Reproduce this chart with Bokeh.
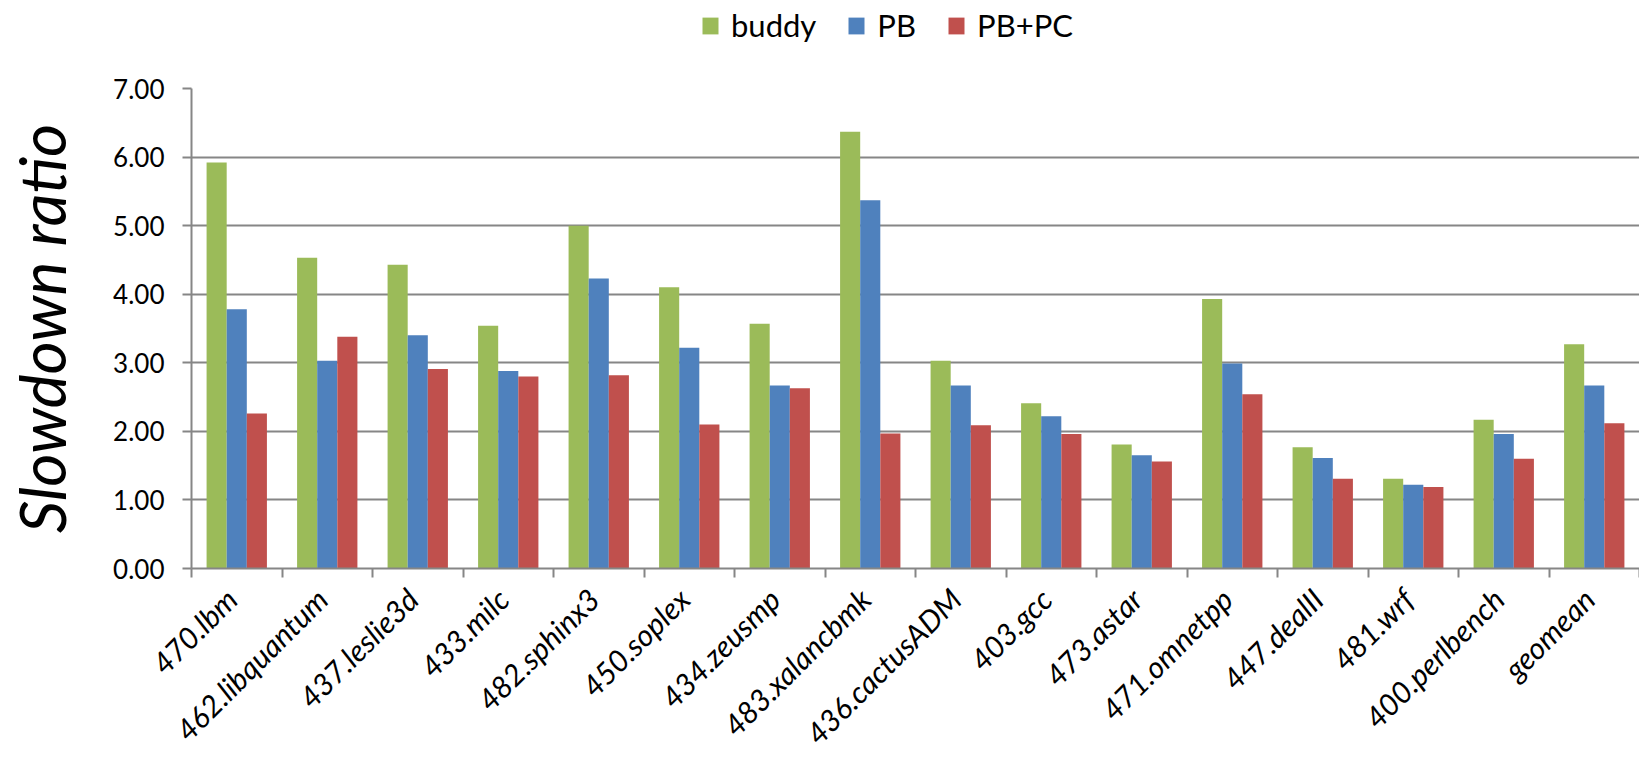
import math

from bokeh.embed import file_html
from bokeh.layouts import column
from bokeh.models import (ColumnDataSource, FixedTicker, Legend, LegendItem, LinearAxis, Range1d)
from bokeh.plotting import figure
from bokeh.resources import INLINE
from bokeh.transform import dodge

# Benchmarks and slowdown ratios for each allocator configuration
benchmarks = [
    "470.lbm", "462.libquantum", "437.leslie3d", "433.milc", "482.sphinx3",
    "450.soplex", "434.zeusmp", "483.xalancbmk", "436.cactusADM", "403.gcc",
    "473.astar", "471.omnetpp", "447.dealII", "481.wrf", "400.perlbench", "geomean",
]
buddy = [5.92, 4.53, 4.43, 3.54, 5.00, 4.10, 3.57, 6.37, 3.03, 2.41, 1.81, 3.93, 1.77, 1.31, 2.17, 3.27]
pb = [3.78, 3.03, 3.40, 2.88, 4.23, 3.22, 2.67, 5.37, 2.67, 2.22, 1.65, 2.99, 1.61, 1.22, 1.96, 2.67]
pb_pc = [2.26, 3.38, 2.91, 2.80, 2.82, 2.10, 2.63, 1.97, 2.09, 1.96, 1.56, 2.54, 1.31, 1.19, 1.60, 2.12]

series_names = ["buddy", "PB", "PB+PC"]
series_keys = ["buddy", "pb", "pb_pc"]
series_colors = ["#9BBB59", "#4F81BD", "#C0504D"]

y_ticks = [0, 1, 2, 3, 4, 5, 6, 7]
y_tick_labels = ["0.00", "1.00", "2.00", "3.00", "4.00", "5.00", "6.00", "7.00"]

GRAY = "#868686"
FONT = "Lato"

n = len(benchmarks)
centers = [i + 0.5 for i in range(n)]      # slot centre of each benchmark group
boundaries = list(range(n + 1))            # slot edges, where the tick marks go
label_shift = 0.06                         # nudge the slanted names so they end at the slot centre

source = ColumnDataSource(dict(center=centers, bench=benchmarks, buddy=buddy, pb=pb, pb_pc=pb_pc))

# ---- main chart -------------------------------------------------------------
p = figure(
    frame_width=1448, frame_height=480,
    x_range=Range1d(0, n), y_range=Range1d(0, 7),
    output_backend="svg", toolbar_location=None,
    min_border_left=191, min_border_right=0, min_border_top=15, min_border_bottom=174,
)
p.outline_line_color = None
p.background_fill_color = "white"
p.border_fill_color = "white"

# Bars: three per benchmark, grouped with a 150% gap
bar_w = 1 / 4.5
offsets = [-bar_w, 0, bar_w]
for key, off, color in zip(series_keys, offsets, series_colors):
    p.vbar(
        x=dodge("center", off), top=key, width=bar_w, source=source,
        fill_color=color, line_color=None,
    )

# Tick marks at the edges of each benchmark slot
xa = p.xaxis[0]
xa.ticker = FixedTicker(ticks=boundaries)
xa.major_label_overrides = {b: "" for b in boundaries}
xa.major_label_text_font_size = "0px"
xa.major_label_standoff = 0
xa.major_tick_in = 0
xa.major_tick_out = 9
xa.major_tick_line_color = GRAY
xa.major_tick_line_width = 2
xa.minor_tick_line_color = None
xa.axis_line_color = GRAY
xa.axis_line_width = 2

# Benchmark names, slanted, ending at each group's centre
name_ticks = [c - label_shift for c in centers]
name_axis = LinearAxis(ticker=FixedTicker(ticks=name_ticks))
name_axis.major_label_overrides = {t: b for t, b in zip(name_ticks, benchmarks)}
name_axis.axis_line_color = None
name_axis.major_tick_line_color = None
name_axis.minor_tick_line_color = None
name_axis.major_tick_out = 0
name_axis.major_tick_in = 0
name_axis.major_label_orientation = math.pi / 4
name_axis.major_label_standoff = 16
name_axis.major_label_text_font = FONT
name_axis.major_label_text_font_style = "italic"
name_axis.major_label_text_font_size = "30px"
name_axis.major_label_text_color = "black"
p.add_layout(name_axis, "below")

ya = p.yaxis[0]
ya.ticker = FixedTicker(ticks=y_ticks)
ya.major_label_overrides = {t: s for t, s in zip(y_ticks, y_tick_labels)}
ya.major_label_text_font = FONT
ya.major_label_text_font_size = "26px"
ya.major_label_text_color = "black"
ya.major_label_standoff = 18
ya.major_tick_in = 0
ya.major_tick_out = 9
ya.major_tick_line_color = GRAY
ya.major_tick_line_width = 2
ya.minor_tick_line_color = None
ya.axis_line_color = GRAY
ya.axis_line_width = 2
ya.axis_label = "Slowdown ratio"
ya.axis_label_text_font = FONT
ya.axis_label_text_font_style = "italic"
ya.axis_label_text_font_size = "64px"
ya.axis_label_text_color = "black"
ya.axis_label_standoff = 30

p.xgrid.visible = False
p.ygrid.ticker = FixedTicker(ticks=y_ticks)
p.ygrid.grid_line_color = GRAY
p.ygrid.grid_line_width = 2

# ---- legend strip above the chart -----------------------------------------
# The swatch renderers reuse the series data but sit outside this strip's view,
# so only their legend entries show.
key_fig = figure(
    width=1639, height=73, x_range=Range1d(-20, -19), y_range=Range1d(0, 1),
    output_backend="svg", toolbar_location=None,
    x_axis_location=None, y_axis_location=None, min_border=0,
)
key_fig.outline_line_color = None
key_fig.grid.visible = False
swatches = [
    key_fig.vbar(x="center", top=key, width=bar_w, source=source,
                 fill_color=color, line_color=None)
    for key, color in zip(series_keys, series_colors)
]
legend = Legend(
    items=[LegendItem(label=s, renderers=[r]) for s, r in zip(series_names, swatches)],
    location=(509, 29), orientation="horizontal",
    label_text_font=FONT, label_text_font_size="31px", label_text_color="black",
    glyph_width=20, glyph_height=21, label_standoff=11, spacing=30,
    padding=0, margin=0, label_height=38,
    border_line_color=None, background_fill_alpha=0,
)
key_fig.add_layout(legend)

page = column(key_fig, p, spacing=0)
open("out.html", "w").write(file_html(page, INLINE))
